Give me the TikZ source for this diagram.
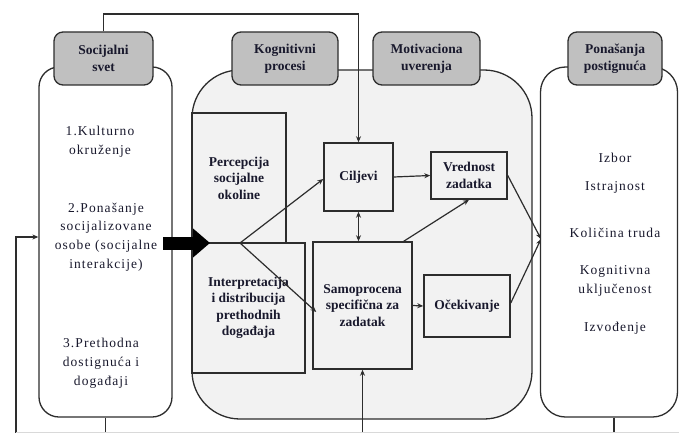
\documentclass[tikz,border=0pt]{standalone}
\usepackage{fontspec}
\setmainfont{Liberation Serif}
\newfontfamily\spaced[LetterSpace=8]{Liberation Serif}
\usetikzlibrary{arrows.meta}
\definecolor{hdr}{RGB}{192,192,192}
\definecolor{bg}{RGB}{242,242,242}
\definecolor{ln}{RGB}{45,45,45}
\definecolor{txt}{RGB}{25,25,45}
\begin{document}
\begin{tikzpicture}[x=1pt,y=-1pt,
  container/.style={draw=ln, line width=1.3pt, inner sep=0pt},
  hdrbox/.style={draw=ln, line width=1.3pt, fill=hdr, rounded corners=9pt, align=center,
     inner sep=0pt, text=txt, font=\fontsize{13.5}{17}\selectfont\bfseries},
  inbox/.style={draw=ln, line width=1.5pt, fill=bg, align=center, inner sep=0pt,
     text=txt, font=\fontsize{13.5}{16.5}\selectfont\bfseries},
  sidetext/.style={align=center, inner sep=0pt, text=txt, font=\spaced\fontsize{13.5}{18.8}\selectfont},
  arr/.style={draw=ln, line width=1.2pt, -{Stealth[length=6pt,width=5pt]}},
  dbl/.style={draw=ln, line width=1.2pt, {Stealth[length=6pt,width=5pt]}-{Stealth[length=6pt,width=5pt]}},
  plain/.style={draw=ln, line width=1.2pt}]
\useasboundingbox (0,0) rectangle (679,433);
\fill[white] (0,0) rectangle (679,433);
% containers
\node[container, rounded corners=20pt, minimum width=133pt, minimum height=350pt] (socb) at (105.5,242) {};
\node[container, fill=bg, rounded corners=48pt, minimum width=340pt, minimum height=349pt] (kogb) at (362,244.5) {};
\node[container, rounded corners=25pt, minimum width=137pt, minimum height=350pt] (achb) at (609,242) {};
% headers
\node[hdrbox, minimum width=99pt, minimum height=53pt] (soch) at (103.5,58.5) {Socijalni\\svet};
\node[hdrbox, minimum width=106pt, minimum height=53pt] (kogh) at (285,58.5) {Kognitivni\\procesi};
\node[hdrbox, minimum width=107pt, minimum height=53pt] (moth) at (426.5,58.5) {Motivaciona\\uverenja};
\node[hdrbox, minimum width=94pt, minimum height=53pt] (achh) at (615,58.5) {Ponašanja\\postignuća};
% left texts
\node[sidetext] (t1) at (100,142) {1.Kulturno\\okruženje};
\node[sidetext] (t2) at (106,237) {2.Ponašanje\\socijalizovane\\osobe (socijalne\\interakcije)};
\node[sidetext] (t3) at (101,363) {3.Prethodna\\dostignuća i\\događaji};
% right texts
\node[sidetext] (r1) at (615,158) {Izbor};
\node[sidetext] (r2) at (615,187) {Istrajnost};
\node[sidetext] (r3) at (615,233) {Količina truda};
\node[sidetext] (r4) at (615,281) {Kognitivna\\uključenost};
\node[sidetext] (r5) at (615,328) {Izvođenje};
% inner boxes
\node[inbox, minimum width=94pt, minimum height=130pt] (perc) at (239,178) {Percepcija\\socijalne\\okoline};
\node[inbox, minimum width=113pt, minimum height=130pt] (interp) at (248.5,308) {Interpretacija\\i distribucija\\prethodnih\\događaja};
\node[inbox, minimum width=69pt, minimum height=68pt] (cil) at (358.5,177) {Ciljevi};
\node[inbox, minimum width=76pt, minimum height=47pt] (vred) at (469,175.5) {Vrednost\\zadatka};
\node[inbox, minimum width=99pt, minimum height=127pt] (samo) at (362.5,305.5) {Samoprocena\\specifična za\\zadatak};
\node[inbox, minimum width=86pt, minimum height=62pt] (ocek) at (467,306) {Očekivanje};
% coordinates
\coordinate (topy) at (0,14);
\coordinate (bot) at (0,433);
\coordinate (br) at (240,243);
\coordinate (conv) at (541,239);
\coordinate (fbl) at (16,433);
\coordinate (bas) at (163,243);
\coordinate (tip) at (210,243);
% big arrow
\draw[black, line width=13pt, -{Triangle[length=17pt,width=28pt]}] (bas) -- (tip);
% connectors
\draw[arr] (soch.north) -- (soch.north |- topy) -| (cil.north);
\draw[arr] (br) -- ([yshift=-2pt]cil.west);
\draw[arr] (br) -- ([yshift=-6.5pt,xshift=4pt]samo.west);
\draw[arr] (cil.east) -- (vred.west);
\draw[dbl] (cil.south) -- (cil.south |- samo.north);
\draw[arr] ([xshift=-9pt]samo.north east) -- (vred.south);
\draw[arr] (samo.east) -- (ocek.west);
\draw[arr] (vred.east) -- (conv);
\draw[arr] ([yshift=3pt]ocek.east) -- (conv);
\draw[arr] (fbl) |- ([yshift=5pt]socb.west);
\draw[plain] (socb.south) -- (socb.south |- bot);
\draw[arr] (samo.south |- bot) -- (samo.south);
\draw[plain] ([xshift=5pt]achb.south) -- ([xshift=5pt]achb.south |- bot);
\draw[gray!30, line width=0.8pt] (16,432.5) -- (679,432.5);
\end{tikzpicture}
\end{document}
